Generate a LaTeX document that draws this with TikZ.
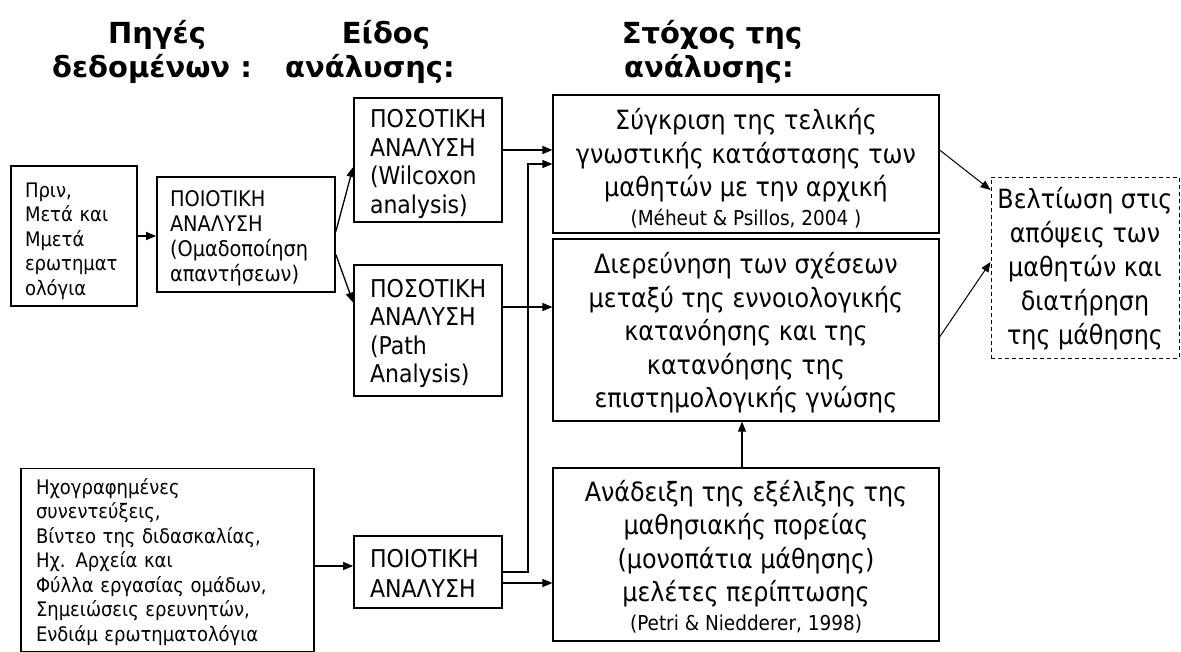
\documentclass[tikz,border=0pt]{standalone}
\usepackage{fontspec}
\setmainfont{DejaVu Sans Condensed}
\newfontfamily\headfont{DejaVu Sans}
\usetikzlibrary{arrows.meta,calc}

\begin{document}
\begin{tikzpicture}[x=1pt,y=-1pt,
  head/.style={anchor=base, inner sep=0pt, font=\headfont\bfseries\fontsize{29}{34}\selectfont},
  thickbox/.style={draw, line width=1.7pt, inner sep=0pt},
  thinbox/.style={draw, line width=1.2pt, inner sep=0pt},
  dashbox/.style={draw, line width=0.9pt, dash pattern=on 4pt off 3pt, inner sep=0pt},
  lefttext/.style={inner sep=0pt, align=left},
  centertext/.style={inner sep=0pt, align=center},
  small/.style={font=\fontsize{20}{24.5}\selectfont},
  mid/.style={font=\fontsize{24.5}{28.5}\selectfont},
  big/.style={font=\fontsize{26.5}{33.5}\selectfont},
  conn/.style={line width=1.3pt, -{Triangle[length=10pt,width=8pt]}}
]
\useasboundingbox (0,0) rectangle (1181,651);

% column headings
\node[head] (h1a) at (157,43) {Πηγές};
\node[head] (h1b) at (152,77) {δεδομένων :};
\node[head] (h2a) at (386,43) {Είδος};
\node[head] (h2b) at (370,77) {ανάλυσης:};
\node[head] (h3a) at (712,43) {Στόχος της};
\node[head] (h3b) at (709,77) {ανάλυσης:};

% frames
\node[thickbox, minimum width=126, minimum height=140] (src1)   at (74,236) {};
\node[thickbox, minimum width=293, minimum height=183] (src2)   at (167.5,560) {};
\node[thickbox, minimum width=178, minimum height=115] (qual1)  at (246,234.5) {};
\node[thickbox, minimum width=148, minimum height=124] (quant1) at (428,160) {};
\node[thickbox, minimum width=148, minimum height=131] (quant2) at (428,330.5) {};
\node[thickbox, minimum width=148, minimum height=72]  (qual2)  at (428,572) {};
\node[thinbox, minimum width=386, minimum height=138]  (goal1)  at (746,164) {};
\node[thinbox, minimum width=386, minimum height=182]  (goal2)  at (746,330) {};
\node[thinbox, minimum width=386, minimum height=173]  (goal3)  at (746,554.5) {};
\node[dashbox, minimum width=188, minimum height=181]  (res)    at (1085,267.5) {};

% data sources
\node[lefttext, small, text width=98] (t-src1) at ($(src1.center)+(0,5)$)
  {Πριν,\\Μετά και\\Μμετά\\ερωτηματ\\ολόγια};
\node[lefttext, small, text width=263] (t-src2) at ($(src2.center)+(0,2)$)
  {Ηχογραφημένες\\συνεντεύξεις,\\Βίντεο της διδασκαλίας,\\Ηχ. Αρχεία και\\Φύλλα εργασίας ομάδων,\\Σημειώσεις ερευνητών,\\Ενδιάμ ερωτηματολόγια};

% kind of analysis
\node[lefttext, text width=152, font=\fontsize{21.5}{25}\selectfont] (t-qual1) at ($(qual1.center)+(0,4)$)
  {ΠΟΙΟΤΙΚΗ\\ΑΝΑΛΥΣΗ\\(Ομαδοποίηση\\απαντήσεων)};
\node[lefttext, mid, text width=116] (t-quant1) at ($(quant1.center)+(0,4)$)
  {ΠΟΣΟΤΙΚΗ\\ΑΝΑΛΥΣΗ\\(Wilcoxon\\analysis)};
\node[lefttext, mid, text width=116] (t-quant2) at ($(quant2.center)+(0,3)$)
  {ΠΟΣΟΤΙΚΗ\\ΑΝΑΛΥΣΗ\\(Path\\Analysis)};
\node[lefttext, text width=116, font=\fontsize{24.5}{30}\selectfont] (t-qual2) at ($(qual2.center)+(0,1)$)
  {ΠΟΙΟΤΙΚΗ\\ΑΝΑΛΥΣΗ};

% aims of the analysis
\node[centertext, big] (t-goal1) at ($(goal1.center)+(0,4)$)
  {Σύγκριση της τελικής\\γνωστικής κατάστασης των\\μαθητών με την αρχική\\[-5pt]
   {\fontsize{20.5}{24}\selectfont (Méheut \& Psillos, 2004 )}};
\node[centertext, big] (t-goal2) at ($(goal2.center)+(0,3)$)
  {Διερεύνηση των σχέσεων\\μεταξύ της εννοιολογικής\\κατανόησης και της\\κατανόησης της\\επιστημολογικής γνώσης};
\node[centertext, big] (t-goal3) at ($(goal3.center)+(0,2)$)
  {Ανάδειξη της εξέλιξης της\\μαθησιακής πορείας\\(μονοπάτια μάθησης)\\μελέτες περίπτωσης\\[-5pt]
   {\fontsize{20.5}{24}\selectfont (Petri \& Niedderer, 1998)}};

% outcome
\node[centertext, font=\fontsize{26.5}{34}\selectfont] (t-res) at ($(res.center)+(0,1)$)
  {Βελτίωση στις\\απόψεις των\\μαθητών και\\διατήρηση\\της μάθησης};

% connectors
\draw[conn] (src1.east) -- (src1.east -| qual1.west);
\coordinate (s2) at ($(src2.east |- qual2.west)+(0,-6)$);
\draw[conn] (s2) -- (s2 -| qual2.west);

\draw[conn] ($(qual1.east)+(0,-3)$) -- ($(quant1.west)+(0,7)$);
\draw[conn] ($(qual1.east)+(0,20)$) -- ($(quant2.west)+(0,-28)$);

\coordinate (a1) at ($(quant1.east)+(0,-10)$);
\draw[conn] (a1) -- (a1 -| goal1.west);
\coordinate (a2) at ($(quant2.east)+(0,-23.5)$);
\draw[conn] (a2) -- (a2 -| goal2.west);
\coordinate (a3) at ($(qual2.east)+(0,11)$);
\draw[conn] (a3) -- (a3 -| goal3.west);

\coordinate (bend) at ($(qual2.east)+(25,0)$);
\draw[conn] (qual2.east) -- (bend) |- (goal1.west);

\draw[conn] ($(goal3.north)+(-4,0)$) -- ($(goal2.south)+(-4,0)$);

\draw[conn, line width=1pt] ($(goal1.east)+(0,-14)$) -- ($(res.west)+(0,-77.5)$);
\draw[conn, line width=1pt] ($(goal2.east)+(0,7)$) -- ($(res.west)+(0,-5.5)$);
\end{tikzpicture}
\end{document}
